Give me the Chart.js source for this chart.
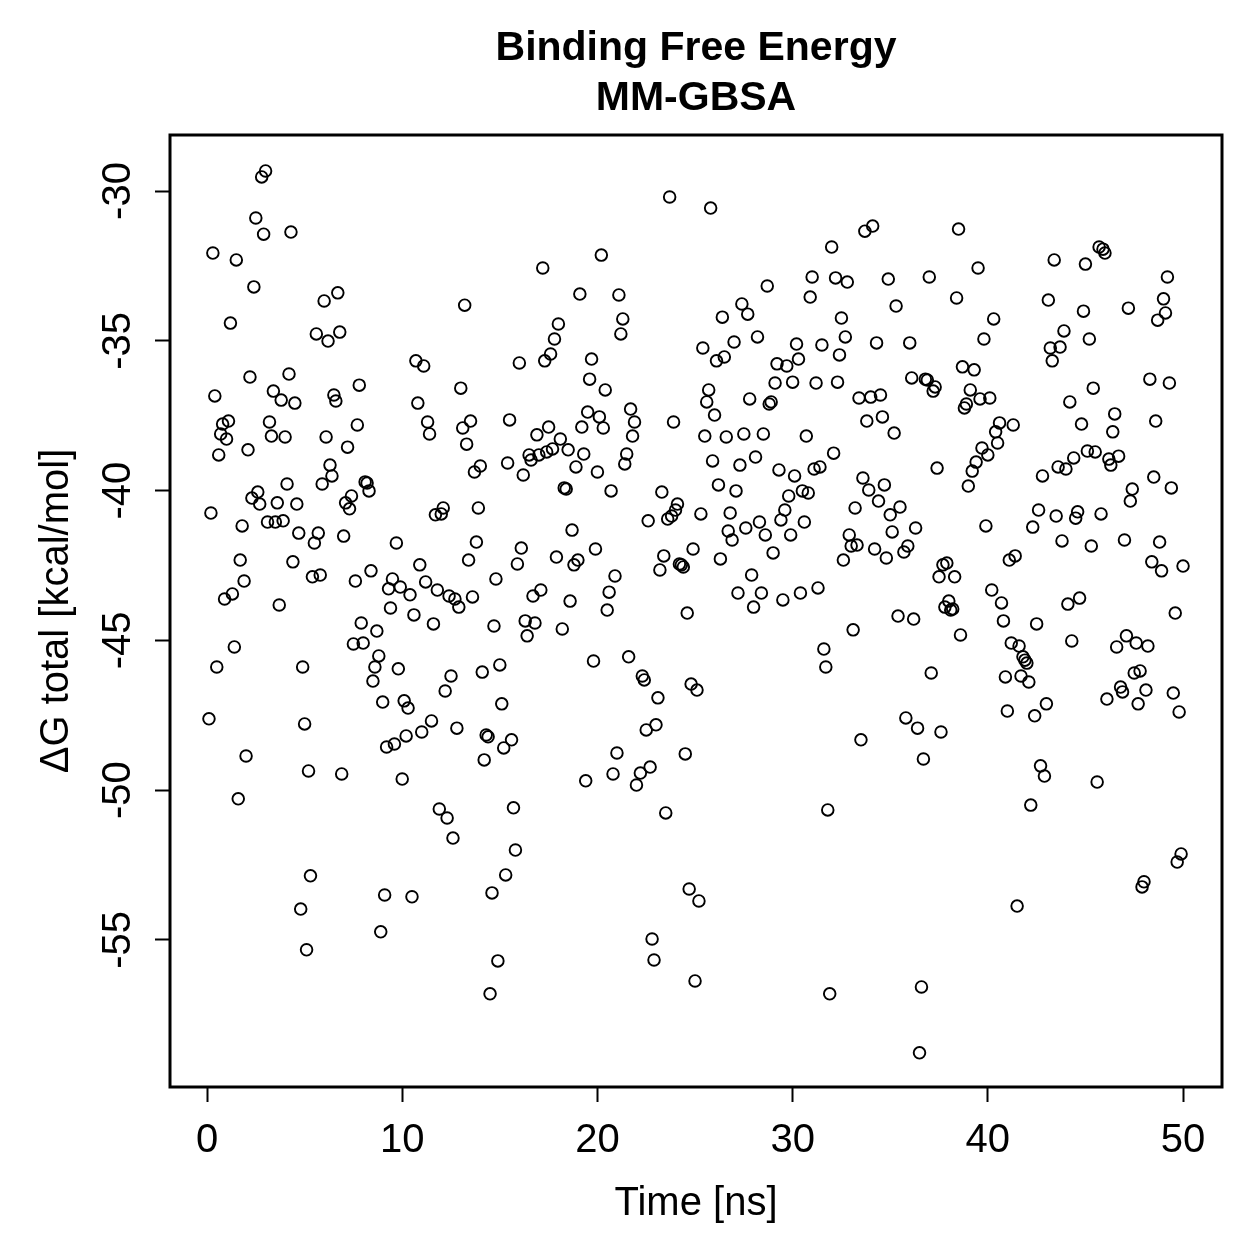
<!DOCTYPE html>
<html>
<head>
<meta charset="utf-8">
<script src="https://cdn.jsdelivr.net/npm/chart.js@4.4.0/dist/chart.umd.min.js"></script>
<style>
  html, body { margin: 0; padding: 0; background: #fff; }
  #wrap { width: 1259px; height: 1259px; }
</style>
</head>
<body>
<div id="wrap"><canvas id="mmgbsa" width="1259" height="1259"></canvas></div>
<script>
// time in ns
const times = [
  0.1, 0.2, 0.3, 0.4, 0.5, 0.6, 0.7, 0.8, 0.9, 1.0, 1.1, 1.2, 1.3, 1.4, 1.5, 1.6, 1.7, 1.8, 1.9, 2.0,
  2.1, 2.2, 2.3, 2.4, 2.5, 2.6, 2.7, 2.8, 2.9, 3.0, 3.1, 3.2, 3.3, 3.4, 3.5, 3.6, 3.7, 3.8, 3.9, 4.0,
  4.1, 4.2, 4.3, 4.4, 4.5, 4.6, 4.7, 4.8, 4.9, 5.0, 5.1, 5.2, 5.3, 5.4, 5.5, 5.6, 5.7, 5.8, 5.9, 6.0,
  6.1, 6.2, 6.3, 6.4, 6.5, 6.6, 6.7, 6.8, 6.9, 7.0, 7.1, 7.2, 7.3, 7.4, 7.5, 7.6, 7.7, 7.8, 7.9, 8.0,
  8.1, 8.2, 8.3, 8.4, 8.5, 8.6, 8.7, 8.8, 8.9, 9.0, 9.1, 9.2, 9.3, 9.4, 9.5, 9.6, 9.7, 9.8, 9.9, 10.0,
  10.1, 10.2, 10.3, 10.4, 10.5, 10.6, 10.7, 10.8, 10.9, 11.0, 11.1, 11.2, 11.3, 11.4, 11.5, 11.6, 11.7, 11.8, 11.9, 12.0,
  12.1, 12.2, 12.3, 12.4, 12.5, 12.6, 12.7, 12.8, 12.9, 13.0, 13.1, 13.2, 13.3, 13.4, 13.5, 13.6, 13.7, 13.8, 13.9, 14.0,
  14.1, 14.2, 14.3, 14.4, 14.5, 14.6, 14.7, 14.8, 14.9, 15.0, 15.1, 15.2, 15.3, 15.4, 15.5, 15.6, 15.7, 15.8, 15.9, 16.0,
  16.1, 16.2, 16.3, 16.4, 16.5, 16.6, 16.7, 16.8, 16.9, 17.0, 17.1, 17.2, 17.3, 17.4, 17.5, 17.6, 17.7, 17.8, 17.9, 18.0,
  18.1, 18.2, 18.3, 18.4, 18.5, 18.6, 18.7, 18.8, 18.9, 19.0, 19.1, 19.2, 19.3, 19.4, 19.5, 19.6, 19.7, 19.8, 19.9, 20.0,
  20.1, 20.2, 20.3, 20.4, 20.5, 20.6, 20.7, 20.8, 20.9, 21.0, 21.1, 21.2, 21.3, 21.4, 21.5, 21.6, 21.7, 21.8, 21.9, 22.0,
  22.2, 22.3, 22.4, 22.5, 22.6, 22.7, 22.8, 22.9, 23.0, 23.1, 23.2, 23.3, 23.4, 23.5, 23.6, 23.7, 23.8, 23.9, 24.0,
  24.1, 24.2, 24.3, 24.4, 24.5, 24.6, 24.7, 24.8, 24.9, 25.0, 25.1, 25.2, 25.3, 25.4, 25.5, 25.6, 25.7, 25.8, 25.9, 26.0,
  26.1, 26.2, 26.3, 26.4, 26.5, 26.6, 26.7, 26.8, 26.9, 27.0, 27.1, 27.2, 27.3, 27.4, 27.5, 27.6, 27.7, 27.8, 27.9, 28.0,
  28.1, 28.2, 28.3, 28.4, 28.5, 28.6, 28.7, 28.8, 28.9, 29.0, 29.1, 29.2, 29.3, 29.4, 29.5, 29.6, 29.7, 29.8, 29.9, 30.0,
  30.1, 30.2, 30.3, 30.4, 30.5, 30.6, 30.7, 30.8, 30.9, 31.0, 31.1, 31.2, 31.3, 31.4, 31.5, 31.6, 31.7, 31.8, 31.9, 32.0,
  32.1, 32.2, 32.3, 32.4, 32.5, 32.6, 32.7, 32.8, 32.9, 33.0, 33.1, 33.2, 33.3, 33.4, 33.5, 33.6, 33.7, 33.8, 33.9, 34.0,
  34.1, 34.2, 34.3, 34.4, 34.5, 34.6, 34.7, 34.8, 34.9, 35.0, 35.1, 35.2, 35.3, 35.4, 35.5, 35.7, 35.8, 35.9, 36.0,
  36.1, 36.2, 36.3, 36.4, 36.5, 36.6, 36.7, 36.8, 36.9, 37.0, 37.1, 37.2, 37.3, 37.4, 37.5, 37.6, 37.7, 37.8, 37.9, 38.0,
  38.1, 38.2, 38.3, 38.4, 38.5, 38.6, 38.7, 38.8, 38.9, 39.0, 39.1, 39.2, 39.3, 39.4, 39.5, 39.6, 39.7, 39.8, 39.9, 40.0,
  40.1, 40.2, 40.3, 40.4, 40.5, 40.6, 40.7, 40.8, 40.9, 41.0, 41.1, 41.2, 41.3, 41.4, 41.5, 41.6, 41.7, 41.8, 41.9, 42.0,
  42.1, 42.2, 42.3, 42.4, 42.5, 42.6, 42.7, 42.8, 42.9, 43.0, 43.1, 43.2, 43.3, 43.4, 43.5, 43.6, 43.7, 43.8, 43.9, 44.0,
  44.1, 44.2, 44.3, 44.4, 44.5, 44.6, 44.7, 44.8, 44.9, 45.0, 45.1, 45.2, 45.3, 45.4, 45.5, 45.6, 45.7, 45.8, 45.9, 46.0,
  46.1, 46.2, 46.3, 46.4, 46.5, 46.6, 46.7, 46.8, 46.9, 47.0, 47.1, 47.2, 47.3, 47.4, 47.5, 47.6, 47.7, 47.8, 47.9, 48.0,
  48.1, 48.2, 48.3, 48.4, 48.5, 48.6, 48.7, 48.8, 48.9, 49.0, 49.1, 49.2, 49.3, 49.4, 49.5, 49.6, 49.7, 49.8, 49.9, 50.0
];

// delta G total in kcal/mol, same order as times
const dG = [
  -47.62, -40.75, -32.07, -36.84, -45.89, -38.81, -38.11, -37.78, -43.62, -38.28, -37.68, -34.41, -43.45, -45.22, -32.30, -50.29, -42.32, -41.18, -43.02, -48.86,
  -38.64, -36.21, -40.25, -33.20, -30.90, -40.05, -40.45, -29.53, -31.44, -29.33, -41.05, -37.71, -38.18, -36.68, -41.05, -40.41, -43.82, -36.98, -41.01, -38.21,
  -39.78, -36.11, -31.37, -42.38, -37.08, -40.45, -41.42, -53.97, -45.89, -47.79, -55.33, -49.36, -52.86, -42.88, -41.75, -34.77, -41.42, -42.82, -39.78, -33.67,
  -38.21, -35.01, -39.15, -39.51, -36.81, -37.01, -33.40, -34.71, -49.46, -41.52, -40.41, -38.55, -40.61, -40.18, -45.12, -43.02, -37.81, -36.48, -44.42, -45.09,
  -39.71, -39.75, -40.01, -42.68, -46.36, -45.89, -44.69, -45.52, -54.73, -47.06, -53.50, -48.56, -43.28, -43.92, -42.95, -48.46, -41.75, -45.95, -43.22, -49.63,
  -47.02, -48.19, -47.26, -43.48, -53.56, -44.15, -35.67, -37.08, -42.48, -48.06, -35.84, -43.05, -37.71, -38.11, -47.69, -44.45, -40.81, -43.32, -50.63, -40.78,
  -40.58, -46.69, -50.93, -43.52, -46.19, -51.60, -43.62, -47.93, -43.89, -36.58, -37.91, -33.81, -38.45, -42.32, -37.68, -43.55, -39.38, -41.72, -40.58, -39.18,
  -46.06, -48.99, -48.16, -48.22, -56.80, -53.43, -44.52, -42.95, -55.70, -45.82, -47.12, -48.59, -52.83, -39.08, -37.64, -48.32, -50.59, -52.00, -42.45, -35.74,
  -41.92, -39.48, -44.35, -44.85, -38.81, -38.98, -43.52, -44.42, -38.14, -38.81, -43.32, -32.57, -35.67, -38.71, -37.88, -35.44, -38.61, -34.94, -42.22, -34.44,
  -38.28, -44.62, -39.91, -39.95, -38.64, -43.69, -41.32, -42.48, -39.21, -42.32, -33.44, -37.88, -38.78, -49.69, -37.38, -36.28, -35.61, -45.69, -41.95, -39.38,
  -37.54, -32.14, -37.91, -36.64, -43.99, -43.39, -40.01, -49.46, -42.85, -48.76, -33.47, -34.77, -34.27, -39.11, -38.78, -45.55, -37.28, -38.18, -37.71, -49.83,
  -49.43, -46.19, -46.32, -47.99, -41.01, -49.23, -54.97, -55.67, -47.82, -46.92, -42.65, -40.05, -42.18, -50.76, -40.95, -30.20, -40.85, -37.71, -40.65,
  -40.45, -42.45, -42.48, -42.55, -48.79, -44.09, -53.30, -46.46, -41.95, -56.37, -46.66, -53.70, -40.78, -35.24, -38.18, -37.04, -36.64, -30.57, -39.01, -37.48,
  -35.67, -39.81, -42.28, -34.21, -35.54, -38.21, -41.35, -40.75, -41.65, -35.04, -40.01, -43.42, -39.15, -33.77, -38.11, -41.25, -34.11, -36.94, -42.82, -43.89,
  -38.88, -34.87, -41.05, -43.42, -38.11, -41.48, -33.17, -37.11, -37.04, -42.08, -36.41, -35.77, -39.31, -40.98, -43.65, -40.65, -35.84, -40.18, -41.48, -36.38,
  -39.51, -35.11, -35.61, -43.42, -40.01, -41.05, -38.18, -40.08, -33.54, -32.87, -39.28, -36.41, -43.25, -39.21, -35.14, -45.29, -45.89, -50.66, -56.80, -31.87,
  -38.75, -32.90, -36.38, -35.47, -34.24, -42.32, -34.87, -33.04, -41.48, -41.85, -44.65, -40.58, -41.82, -36.91, -48.32, -39.58, -31.34, -37.68, -39.98, -36.88,
  -31.17, -41.95, -35.07, -40.35, -36.81, -37.54, -39.81, -42.25, -32.94, -40.81, -41.38, -38.08, -33.84, -44.19, -40.55, -42.05, -47.59, -41.85, -35.07,
  -36.24, -44.29, -41.25, -47.93, -58.77, -56.57, -48.96, -36.28, -36.31, -32.87, -46.09, -36.68, -36.54, -39.25, -42.88, -48.06, -42.48, -43.89, -42.42, -43.69,
  -43.99, -43.95, -42.88, -33.57, -31.27, -44.82, -35.87, -37.24, -37.11, -39.85, -36.64, -39.35, -35.97, -39.05, -32.57, -36.94, -38.58, -34.94, -41.18, -38.81,
  -36.91, -43.32, -34.27, -38.04, -38.41, -37.74, -43.75, -44.35, -46.22, -47.36, -42.32, -45.09, -37.81, -42.18, -53.87, -45.19, -46.19, -45.55, -45.66, -45.76,
  -46.39, -50.50, -41.22, -47.52, -44.45, -40.65, -49.19, -39.51, -49.53, -47.12, -33.64, -35.24, -35.67, -32.30, -40.85, -39.21, -35.21, -41.68, -34.67, -39.28,
  -43.79, -37.04, -45.02, -38.91, -40.92, -40.71, -43.59, -37.78, -34.01, -32.44, -38.68, -34.94, -41.85, -36.58, -38.71, -49.73, -31.87, -40.78, -31.94, -32.07,
  -46.96, -38.95, -39.15, -38.04, -37.44, -45.22, -38.85, -46.56, -46.72, -41.65, -44.85, -33.91, -40.35, -39.95, -46.09, -45.09, -47.12, -46.02, -53.23, -53.06,
  -46.66, -45.19, -36.28, -42.38, -39.55, -37.68, -34.31, -41.72, -42.68, -33.60, -34.07, -32.87, -36.41, -39.91, -46.76, -44.09, -52.40, -47.39, -52.13, -42.52
];

const xTicks = [0, 10, 20, 30, 40, 50];
const yTicks = [-55, -50, -45, -40, -35, -30];
const titleLines = ['Binding Free Energy', 'MM-GBSA'];
const xLabel = 'Time [ns]';
const yLabel = 'ΔG total [kcal/mol]';

const FONT = '"Liberation Sans", Arial, Helvetica, sans-serif';

// box, rotated y labels and titles the way base R draws them
const rFrame = {
  id: 'rFrame',
  afterDraw(chart) {
    const { ctx, chartArea: a, scales: { x, y } } = chart;
    const midX = (a.left + a.right) / 2;
    const midY = (a.top + a.bottom) / 2;
    ctx.save();
    ctx.strokeStyle = '#000';
    ctx.lineWidth = 3;
    ctx.strokeRect(a.left, a.top, a.right - a.left, a.bottom - a.top);

    ctx.fillStyle = '#000';
    ctx.textAlign = 'center';
    ctx.textBaseline = 'alphabetic';
    ctx.font = `40px ${FONT}`;
    x.ticks.forEach(t => ctx.fillText(String(t.value), x.getPixelForValue(t.value), 1152));
    y.ticks.forEach(t => {
      ctx.save();
      ctx.translate(130, y.getPixelForValue(t.value));
      ctx.rotate(-Math.PI / 2);
      ctx.fillText(String(t.value), 0, 0);
      ctx.restore();
    });
    ctx.fillText(xLabel, midX, 1215);
    ctx.save();
    ctx.translate(68, midY);
    ctx.rotate(-Math.PI / 2);
    ctx.fillText(yLabel, 0, 0);
    ctx.restore();

    ctx.font = `bold 41px ${FONT}`;
    titleLines.forEach((s, i) => ctx.fillText(s, midX, 60 + i * 50));
    ctx.restore();
  }
};

const points = times.map((t, i) => ({ x: t, y: dG[i] }));

new Chart(document.getElementById('mmgbsa').getContext('2d'), {
  type: 'scatter',
  data: {
    datasets: [{
      data: points,
      pointStyle: 'circle',
      pointRadius: 5.8,
      pointBorderWidth: 1.9,
      pointBorderColor: '#000',
      pointBackgroundColor: 'rgba(0,0,0,0)'
    }]
  },
  options: {
    responsive: false,
    animation: false,
    devicePixelRatio: 1,
    layout: { padding: { top: 135, right: 37, left: 0, bottom: 0 } },
    plugins: { legend: { display: false }, tooltip: { enabled: false } },
    scales: {
      x: {
        type: 'linear',
        min: -1.896,
        max: 51.996,
        afterBuildTicks: s => { s.ticks = xTicks.map(v => ({ value: v })); },
        afterFit: s => { s.height = 172; },
        ticks: { display: false },
        border: { display: false },
        grid: { drawOnChartArea: false, drawTicks: true, tickLength: 15, tickColor: '#000', tickWidth: 2 }
      },
      y: {
        type: 'linear',
        min: -59.91,
        max: -28.13,
        afterBuildTicks: s => { s.ticks = yTicks.map(v => ({ value: v })); },
        afterFit: s => { s.width = 170; },
        ticks: { display: false },
        border: { display: false },
        grid: { drawOnChartArea: false, drawTicks: true, tickLength: 15, tickColor: '#000', tickWidth: 2 }
      }
    }
  },
  plugins: [rFrame]
});
</script>
</body>
</html>
